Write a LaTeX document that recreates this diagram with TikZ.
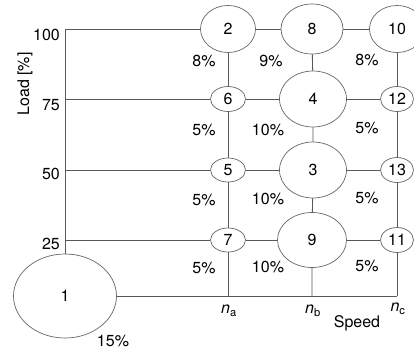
\documentclass[tikz,border=0pt]{standalone}
\usepackage{fontspec}
\setmainfont{TeX Gyre Heros}
\usetikzlibrary{shapes.geometric,positioning}

\begin{document}
\begin{tikzpicture}[
    x=1pt, y=-1pt,
    state/.style={ellipse, draw=black!60, fill=white, line width=0.7pt, inner sep=0pt, font=\fontsize{16}{19}\selectfont},
    gridline/.style={draw=black!65, line width=0.9pt},
    lbl/.style={inner sep=0pt, font=\fontsize{16}{19}\selectfont}
]
    \useasboundingbox (0,0) rectangle (414,351);

    % Operating points
    \node[state, minimum width=103pt, minimum height=84pt] (n1) at (65,296) {1};
    \node[state, minimum width=55pt, minimum height=47pt] (n2) at (228,29) {2};
    \node[state, minimum width=62pt, minimum height=50pt] (n8) at (312,29) {8};
    \node[state, minimum width=55pt, minimum height=47pt] (n10) at (397,29) {10};
    \node[state, minimum width=35pt, minimum height=25pt] (n6) at (228,99) {6};
    \node[state, minimum width=67pt, minimum height=56pt] (n4) at (313,99) {4};
    \node[state, minimum width=33pt, minimum height=25pt] (n12) at (397,99) {12};
    \node[state, minimum width=35pt, minimum height=24pt] (n5) at (228,170) {5};
    \node[state, minimum width=67pt, minimum height=56pt] (n3) at (313,170) {3};
    \node[state, minimum width=33pt, minimum height=25pt] (n13) at (397,170) {13};
    \node[state, minimum width=35pt, minimum height=24pt] (n7) at (228,240) {7};
    \node[state, minimum width=69pt, minimum height=55pt] (n9) at (312,240) {9};
    \node[state, minimum width=33pt, minimum height=25pt] (n11) at (397,240) {11};

    % Axis ends
    \coordinate (l100) at (65,29);
    \coordinate (l75) at (65,99);
    \coordinate (l50) at (65,170);
    \coordinate (l25) at (65,240);
    \coordinate (na) at (228,296);
    \coordinate (nb) at (312,296);
    \coordinate (nc) at (397,296);

    % Load axis and rows
    \draw[gridline] (l100) -- (n1);
    \draw[gridline] (l100) -- (n2) -- (n8) -- (n10);
    \draw[gridline] (l75) -- (n6) -- (n4) -- (n12);
    \draw[gridline] (l50) -- (n5) -- (n3) -- (n13);
    \draw[gridline] (l25) -- (n7) -- (n9) -- (n11);
    \draw[gridline] (n1) -- (nc);

    % Speed columns
    \draw[gridline] (n2) -- (n6) -- (n5) -- (n7) -- (na);
    \draw[gridline] (n8) -- (n4) -- (n3) -- (n9) -- (nb);
    \draw[gridline] (n10) -- (n12) -- (n13) -- (n11) -- (nc);

    % Tick labels
    \node[lbl, anchor=east] (t100) at (60,35) {100};
    \node[lbl, anchor=east] (t75) at (60,105) {75};
    \node[lbl, anchor=east] (t50) at (60,174) {50};
    \node[lbl, anchor=east] (t25) at (60,244) {25};
    \node[lbl] (ylab) at (25,84) {\rotatebox{90}{Load [\%]}};
    \node[lbl] (ta) at (229,311) {\textit{n}\textsubscript{a}};
    \node[lbl] (tb) at (313,311) {\textit{n}\textsubscript{b}};
    \node[lbl] (tc) at (398,309) {\textit{n}\textsubscript{c}};
    \node[lbl] (xlab) at (357,323) {Speed};

    % Shares
    \node[lbl] (p2) at (204,61) {8\%};
    \node[lbl] (p8) at (271,61) {9\%};
    \node[lbl] (p10) at (367,60) {8\%};
    \node[lbl] (p6) at (204,130) {5\%};
    \node[lbl] (p4) at (268,130) {10\%};
    \node[lbl] (p12) at (367,128) {5\%};
    \node[lbl] (p5) at (204,200) {5\%};
    \node[lbl] (p3) at (268,199) {10\%};
    \node[lbl] (p13) at (367,198) {5\%};
    \node[lbl] (p7) at (204,268) {5\%};
    \node[lbl] (p9) at (268,267) {10\%};
    \node[lbl] (p11) at (367,266) {5\%};
    \node[lbl] (p1) at (113,341) {15\%};
\end{tikzpicture}
\end{document}
